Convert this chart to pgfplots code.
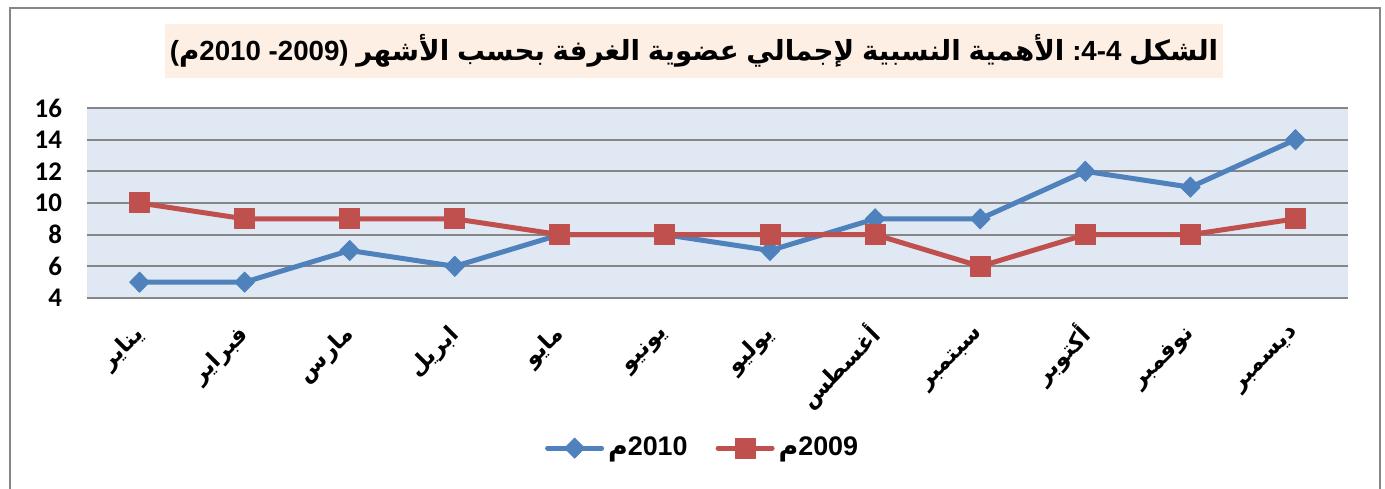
\documentclass[border=0pt]{standalone}
\usepackage{fontspec}
\usepackage{pgfplots}
\pgfplotsset{compat=1.18}
\TeXXeTstate=1
\setmainfont{Liberation Sans}
\newfontfamily\arabicfont[Script=Arabic]{DejaVu Sans}
\newfontfamily\carlito{Carlito}
\definecolor{blueL}{RGB}{79,129,189}
\definecolor{redL}{RGB}{192,80,77}
\definecolor{plotbg}{RGB}{224,232,243}
\definecolor{gridc}{RGB}{134,134,134}
\definecolor{titlebg}{RGB}{253,239,227}
\newcommand\ar[1]{{\arabicfont\bfseries\beginR #1\endR}}
\begin{document}
\begin{tikzpicture}
\useasboundingbox (0bp,0bp) rectangle (692.5bp,244.5bp);
\draw[gridc, line width=1.2bp] (5bp,-5bp) -- (5bp,240.5bp) -- (690bp,240.5bp) -- (690bp,-5bp);
\node[fill=titlebg, minimum width=529bp, minimum height=27bp, inner sep=0pt] at (347bp,219bp)
  {\fontsize{13.9}{16}\selectfont\bfseries (\ar{م}2010 -2009) \ar{الأشهر} \ar{بحسب} \ar{الغرفة} \ar{عضوية} \ar{لإجمالي} \ar{النسبية} \ar{الأهمية} :4-4 \ar{الشكل}};
\begin{axis}[
  at={(43.5bp,95.5bp)}, anchor=south west,
  width=630.5bp, height=95bp, scale only axis,
  xmin=-0.5, xmax=11.5, ymin=4, ymax=16,
  ytick={4,6,...,16},
  xtick={0,...,11},
  xticklabels={\ar{يناير},\ar{فبراير},\ar{مارس},\ar{ابريل},\ar{مايو},\ar{يونيو},\ar{يوليو},\ar{أغسطس},\ar{سبتمبر},\ar{أكتوبر},\ar{نوفمبر},\ar{ديسمبر}},
  axis background/.style={fill=plotbg},
  ymajorgrids,
  grid style={gridc, line width=0.9bp},
  axis line style={draw=none},
  major tick length=0pt,
  tick style={draw=none},
  /pgf/number format/assume math mode=true,
  yticklabel style={font=\carlito\bfseries\fontsize{13.5}{14}\selectfont, xshift=-9bp},
  xticklabel style={font=\fontsize{11.5}{13}\selectfont, rotate=45, anchor=east, yshift=-12bp, xshift=-8bp},
  clip=false,
  legend columns=2,
  legend style={at={(0.489,-0.79)}, anchor=center, draw=none, fill=none,
    font=\fontsize{13.5}{15}\selectfont\bfseries,
    /tikz/every even column/.append style={column sep=12bp}},
  legend image code/.code={\draw[mark repeat=2,mark phase=2,line cap=round] plot coordinates {(0bp,0bp) (13.5bp,0bp) (27bp,0bp)};},
]
\addplot[blueL, line width=2.5bp, line join=round, mark=diamond*, mark size=5bp, mark options={solid, xscale=1.3, line width=0.5bp}]
  coordinates {(0,5)(1,5)(2,7)(3,6)(4,8)(5,8)(6,7)(7,9)(8,9)(9,12)(10,11)(11,14)};
\addlegendentry{\ar{م}2010}
\addplot[redL, line width=2.5bp, line join=round, mark=square*, mark size=5bp, mark options={solid, line width=0.5bp}]
  coordinates {(0,10)(1,9)(2,9)(3,9)(4,8)(5,8)(6,8)(7,8)(8,6)(9,8)(10,8)(11,9)};
\addlegendentry{\ar{م}2009}
\end{axis}
\end{tikzpicture}
\end{document}
